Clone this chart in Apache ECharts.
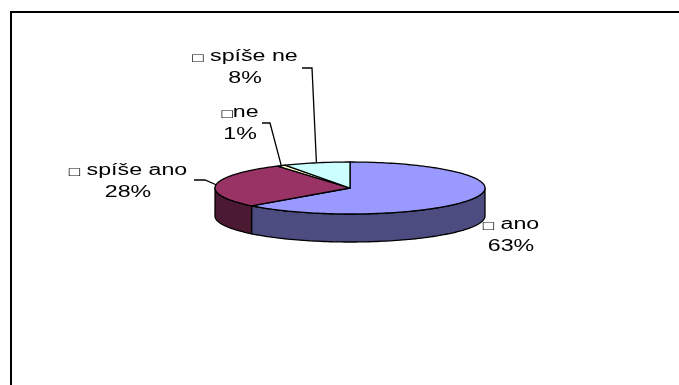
<!DOCTYPE html>
<html>
<head>
<meta charset="utf-8">
<script src="https://cdn.jsdelivr.net/npm/echarts@6/dist/echarts.min.js"></script>
<style>
  html, body { margin: 0; padding: 0; background: #fff; }
  #chart { width: 679px; height: 385px; }
</style>
</head>
<body>
<div id="chart"></div>
<script>
// Answers and their shares (percent)
const categories = ['ano', 'spíše ano', 'ne', 'spíše ne'];
const shares = [63, 28, 1, 8];
// gap between the legend key and the answer text
const keyGaps = [' ', ' ', '', ' '];

// Slice colours: top face and darker front wall
const topColors = ['#9999FF', '#993366', '#FFFFCC', '#CCFFFF'];
const sideColors = ['#4C4C80', '#4C1933', '#808066', '#668080'];

// Tilted pie geometry
const PIE = { cx: 350, cy: 188, rx: 135, ry: 26, depth: 28 };
const TEXT_STRETCH = 1.45;
const FONT = '"Liberation Sans", Arial, sans-serif';

// Label placement: centre x, top of the text block, leader start and elbow
const labelLayout = [
  { x: 511, y: 214, leader: null },
  { x: 128, y: 160, leader: [[194, 180], [205, 180]] },
  { x: 240, y: 102, leader: [[262, 123], [270, 123]] },
  { x: 245, y: 46,  leader: [[302, 68], [312, 68]] }
];

const total = shares.reduce((a, b) => a + b, 0);

// point on the rim; angle measured clockwise from 12 o'clock
function rim(theta, dy) {
  return [PIE.cx + PIE.rx * Math.sin(theta), PIE.cy - PIE.ry * Math.cos(theta) + (dy || 0)];
}

function arc(a0, a1, dy) {
  const n = Math.max(2, Math.ceil(Math.abs(a1 - a0) / (Math.PI / 120)));
  const pts = [];
  for (let j = 0; j <= n; j++) pts.push(rim(a0 + (a1 - a0) * j / n, dy));
  return pts;
}

function renderItem(params, api) {
  const i = params.dataIndex;
  const v = api.value(0);
  let before = 0;
  for (let k = 0; k < i; k++) before += shares[k];
  const a0 = before / total * 2 * Math.PI;
  const a1 = (before + v) / total * 2 * Math.PI;
  const mid = (a0 + a1) / 2;
  const edge = { stroke: '#000', lineWidth: 1.3, lineJoin: 'round' };
  const children = [];

  // front wall (visible between 3 and 9 o'clock through the bottom)
  const s0 = Math.max(a0, Math.PI / 2);
  const s1 = Math.min(a1, 1.5 * Math.PI);
  if (s1 > s0) {
    const wall = arc(s0, s1, 0).concat(arc(s1, s0, PIE.depth));
    children.push({
      type: 'polygon', z2: 1,
      shape: { points: wall },
      style: Object.assign({ fill: sideColors[i] }, edge)
    });
  }

  // top face
  const face = [[PIE.cx, PIE.cy]].concat(arc(a0, a1, 0));
  children.push({
    type: 'polygon', z2: 10,
    shape: { points: face },
    style: Object.assign({ fill: topColors[i] }, edge)
  });

  // label: legend key, answer and percentage
  const L = labelLayout[i];
  const pct = Math.round(v / total * 100) + '%';
  children.push({
    type: 'text', z2: 20,
    x: L.x, y: L.y, scaleX: TEXT_STRETCH,
    style: {
      text: '{k|□}' + keyGaps[i] + categories[i] + '\n' + pct,
      fill: '#000', fontSize: 16, fontFamily: FONT,
      align: 'center', verticalAlign: 'top', lineHeight: 22,
      rich: {
        k: { fontSize: 13, fontFamily: FONT, lineHeight: 22, padding: [2, 0, 0, 0] }
      }
    }
  });

  if (L.leader) {
    children.push({
      type: 'polyline', z2: 5,
      shape: { points: [L.leader[0], L.leader[1], rim(mid, 0)] },
      style: { stroke: '#000', lineWidth: 1.3, fill: null }
    });
  }
  return { type: 'group', children: children };
}

const chart = echarts.init(document.getElementById('chart'), null, { renderer: 'canvas' });
chart.setOption({
  backgroundColor: '#fff',
  animation: false,
  graphic: [{
    type: 'rect', z: 0,
    shape: { x: 11, y: 12, width: 720, height: 420 },
    style: { fill: 'none', stroke: '#000', lineWidth: 2 }
  }],
  series: [{
    type: 'custom',
    name: 'odpovědi',
    coordinateSystem: 'none',
    data: shares.map((v, i) => ({ name: categories[i], value: [v] })),
    renderItem: renderItem
  }]
});
</script>
</body>
</html>
